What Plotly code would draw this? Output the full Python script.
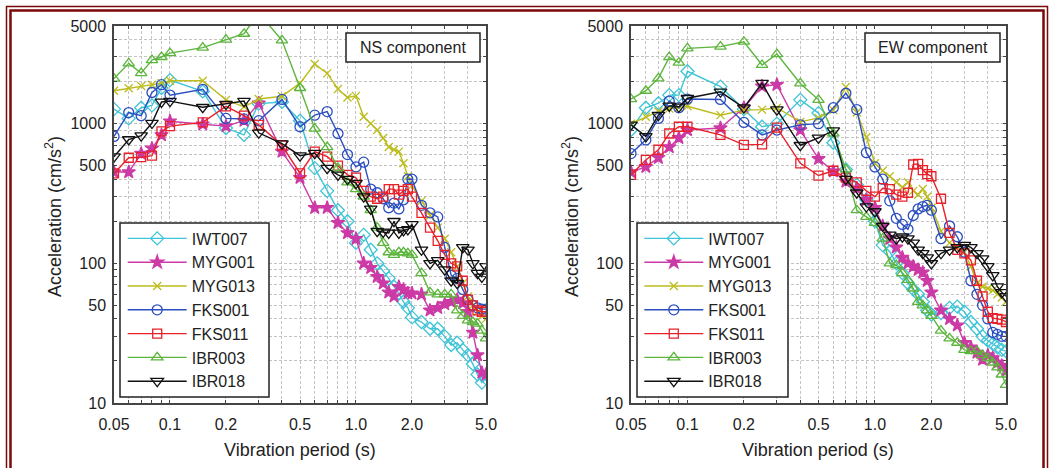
import plotly.graph_objects as go

# ---------------- data ----------------
periods = [0.05, 0.06, 0.07, 0.08, 0.09, 0.10, 0.15, 0.20, 0.25, 0.30,
           0.40, 0.50, 0.60, 0.70, 0.80, 0.90, 1.0, 1.1, 1.2, 1.3, 1.4,
           1.5, 1.6, 1.7, 1.8, 1.9, 2.0, 2.25, 2.5, 2.75, 3.0, 3.25, 3.5,
           3.75, 4.0, 4.25, 4.5, 4.75, 5.0]

stations = ["IWT007", "MYG001", "MYG013", "FKS001", "FKS011", "IBR003", "IBR018"]

# NS component
ns_iwt007 = [1270, 1090, 1300, 1350, 1800, 2050, 1700, 930, 830, 1390,
             1430, 1050, 480, 330, 240, 200, 140, 160, 125, 100, 88, 78, 68, 61, 53, 48, 41,
             38, 34, 34, 30, 26, 27, 24, 22, 19, 16, 14, 15]
ns_myg001 = [450, 450, 610, 665, 830, 1040, 990, 960, 1050, 1400,
             630, 410, 250, 250, 195, 165, 150, 100, 93, 80, 72, 62, 58, 68, 65, 61, 61,
             60, 46, 48, 51, 53, 55, 52, 45, 32, 22, 16.5, 16]
ns_myg013 = [1720, 1790, 1860, 1900, 1950, 2030, 2030, 1480, 1320, 1500,
             1570, 1950, 2670, 2290, 1770, 1540, 1580, 1120, 1000, 900, 790, 680, 650, 630, 520, 420, 360,
             280, 220, 180, 150, 120, 95, 72, 58, 50, 45, 42, 40]
ns_fks001 = [810, 1200, 1140, 1670, 1900, 1600, 1760, 1090, 1080, 1050,
             1490, 950, 1150, 1220, 850, 600, 490, 530, 340, 320, 290, 250, 270, 245, 285, 400, 400,
             260, 230, 215, 130, 82, 78, 65, 55, 50, 48, 47, 47]
ns_fks011 = [440, 570, 575, 590, 880, 960, 1020, 1330, 1140, 980,
             700, 440, 630, 580, 500, 430, 410, 330, 300, 290, 300, 340, 340, 310, 330, 340, 300,
             230, 180, 145, 115, 100, 95, 75, 55, 50, 46, 45, 45]
ns_ibr003 = [2100, 2700, 2300, 2850, 3000, 3200, 3500, 4000, 4400, 6200,
             3950, 1800, 920, 680, 480, 380, 340, 300, 240, 180, 140, 120, 115, 120, 120, 118, 115,
             85, 62, 60, 60, 60, 46, 42, 39, 38, 37, 33, 29]
ns_ibr018 = [580, 770, 820, 1010, 1430, 1450, 1310, 1380, 1450, 860,
             720, 590, 615, 480, 430, 400, 375, 300, 245, 170, 168, 165, 200, 165, 172, 175, 190,
             125, 100, 105, 90, 75, 72, 130, 125, 100, 85, 80, 95]

# EW component
ew_iwt007 = [900, 1300, 1400, 1600, 1600, 2370, 1840, 1270, 950, 1000,
             1480, 1190, 730, 470, 365, 285, 200, 135, 121, 100, 85, 72, 65, 60, 53, 46, 43,
             44, 48, 49, 45, 38, 34, 30, 28, 26.5, 25, 24, 23.5]
ew_myg001 = [450, 490, 570, 680, 790, 900, 930, 1300, 1850, 1900,
             900, 560, 455, 385, 345, 285, 250, 185, 150, 130, 110, 100, 95, 90, 86, 75, 62,
             46, 40, 36, 27, 25, 23, 20.5, 22, 21, 19.5, 18.5, 17]
ew_myg013 = [1000, 1120, 1220, 1280, 1300, 1330, 1150, 1250, 1260, 1300,
             1030, 1100, 1250, 1830, 1200, 800, 520, 460, 420, 380, 350, 380, 330, 310, 340, 300, 250,
             170, 140, 130, 120, 95, 72, 68, 66, 64, 60, 57, 53]
ew_fks001 = [610, 765, 1090, 1450, 1300, 1500, 1490, 1020, 830, 900,
             980, 1000, 1300, 1650, 1260, 620, 490, 400, 280, 210, 190, 175, 220, 245, 255, 260, 240,
             150, 185, 155, 120, 75, 60, 50, 40, 32, 31, 30, 30]
ew_fks011 = [430, 550, 650, 850, 950, 950, 830, 705, 710, 935,
             520, 425, 460, 410, 380, 330, 300, 345, 340, 310, 300, 320, 510, 515, 465, 435, 420,
             290, 165, 125, 118, 105, 75, 58, 45, 40.5, 40, 39.5, 38]
ew_ibr003 = [1500, 1720, 2110, 2990, 2730, 3460, 3560, 3860, 2630, 3150,
             1940, 1480, 850, 470, 240, 215, 195, 150, 100, 97, 85, 76, 66, 53, 50, 46, 42,
             33, 29, 27, 24, 23.5, 23.5, 22, 21, 19.5, 18, 16, 13.5]
ew_ibr018 = [980, 810, 1150, 1340, 1320, 1520, 1690, 1300, 1950, 1260,
             700, 790, 890, 400, 320, 255, 235, 185, 160, 150, 155, 150, 140, 125, 118, 110, 100,
             118, 125, 130, 135, 130, 118, 108, 95, 82, 68, 62, 58]

ns_values = [ns_iwt007, ns_myg001, ns_myg013, ns_fks001, ns_fks011, ns_ibr003, ns_ibr018]
ew_values = [ew_iwt007, ew_myg001, ew_myg013, ew_fks001, ew_fks011, ew_ibr003, ew_ibr018]

x_tickvals = [0.05, 0.06, 0.07, 0.08, 0.09, 0.1, 0.2, 0.3, 0.4, 0.5, 0.6, 0.7, 0.8, 0.9,
              1, 2, 3, 4, 5]
x_ticktext = ["0.05", " ", " ", " ", " ", "0.1", "0.2", " ", " ", "0.5", " ", " ", " ", " ",
              "1.0", "2.0", " ", " ", "5.0"]
y_tickvals = [10, 20, 30, 40, 50, 60, 70, 80, 90, 100, 200, 300, 400, 500, 600, 700, 800,
              900, 1000, 2000, 3000, 4000, 5000]
y_ticktext = ["10", " ", " ", " ", "50", " ", " ", " ", " ", "100", " ", " ", " ", "500", " ",
              " ", " ", " ", "1000", " ", " ", " ", "5000"]

# ---------------- styles ----------------
colors = ["#3ec4d6", "#cc3aa6", "#bcbc1c", "#2c4fc0", "#e8202a", "#5cb53c", "#111111"]
symbols = ["diamond-open", "star", "x-thin-open", "circle-open", "square-open",
           "triangle-up-open", "triangle-down-open"]
sizes = [10, 10, 8, 10, 9, 10, 11]

W, H = 1054, 468
FONT = "Liberation Sans, Arial, Helvetica, sans-serif"
TXT = "#222222"


def px_x(p):
    return p / W


def px_y(p):
    return 1 - p / H


fig = go.Figure()

for i, name in enumerate(stations):
    for comp, vals, xa, ya, lg in (("NS", ns_values[i], "x", "y", "legend"),
                                    ("EW", ew_values[i], "x2", "y2", "legend2")):
        fig.add_trace(go.Scatter(
            x=periods, y=vals, name=name, xaxis=xa, yaxis=ya, legend=lg,
            mode="lines+markers",
            line=dict(color=colors[i], width=1.4),
            marker=dict(symbol=symbols[i], size=sizes[i], color=colors[i],
                        line=dict(color=colors[i], width=1.3)),
        ))

axis_common = dict(
    type="log", showline=True, mirror="ticks", linecolor="#444444", linewidth=1.5,
    showgrid=True, gridcolor="#c4c4c4", gridwidth=1, griddash="3px,2px",
    ticks="inside", ticklen=3, tickcolor="#444444", automargin=False, tickangle=0,
    tickfont=dict(family=FONT, size=16, color=TXT), zeroline=False,
)

xaxis = dict(axis_common, range=[-1.30103, 0.69897], tickmode="array",
             tickvals=x_tickvals, ticktext=x_ticktext, ticklabelstandoff=6)
yaxis = dict(axis_common, range=[1, 3.69897], tickmode="array",
             tickvals=y_tickvals, ticktext=y_ticktext, ticklabelstandoff=3)

legend_common = dict(xanchor="left", yanchor="top", borderwidth=0,
                     bgcolor="rgba(0,0,0,0)",
                     font=dict(family=FONT, size=16, color=TXT), itemwidth=59,
                     tracegroupgap=0)

fig.update_layout(
    width=W, height=H, autosize=False,
    margin=dict(l=0, r=0, t=0, b=0, pad=0, autoexpand=False),
    paper_bgcolor="white", plot_bgcolor="white",
    font=dict(family=FONT, color=TXT),
    xaxis=dict(xaxis, domain=[px_x(114), px_x(486)], anchor="y"),
    yaxis=dict(yaxis, domain=[px_y(403), px_y(26)], anchor="x"),
    xaxis2=dict(xaxis, domain=[px_x(631), px_x(1006)], anchor="y2"),
    yaxis2=dict(yaxis, domain=[px_y(403), px_y(26)], anchor="x2"),
    legend=dict(legend_common, x=px_x(122.7), y=px_y(221.5)),
    legend2=dict(legend_common, x=px_x(639.3), y=px_y(221.5)),
    showlegend=True,
)

shapes = []
# legend boxes
for x0, x1 in ((120, 269), (637, 788)):
    shapes.append(dict(type="rect", xref="paper", yref="paper",
                       x0=px_x(x0), x1=px_x(x1), y0=px_y(397), y1=px_y(223),
                       line=dict(color="#222222", width=1.5), fillcolor="white", layer="above"))
# component boxes
for x0, x1 in ((346, 480), (865, 1000)):
    shapes.append(dict(type="rect", xref="paper", yref="paper",
                       x0=px_x(x0), x1=px_x(x1), y0=px_y(62), y1=px_y(33),
                       line=dict(color="#222222", width=1.5), fillcolor="white", layer="above"))
# dark red page border (double line)
shapes.append(dict(type="rect", xref="paper", yref="paper",
                   x0=px_x(6.5), x1=px_x(1047.5), y0=px_y(480), y1=px_y(6.5),
                   line=dict(color="#7a0a0a", width=1.5)))
shapes.append(dict(type="rect", xref="paper", yref="paper",
                   x0=px_x(10.5), x1=px_x(1043.5), y0=px_y(480), y1=px_y(10.5),
                   line=dict(color="#7a0a0a", width=2.5)))

annotations = [
    dict(text="NS component", x=px_x(413), y=px_y(47.5), xref="paper", yref="paper",
         xanchor="center", yanchor="middle",
         showarrow=False, font=dict(family=FONT, size=16, color=TXT)),
    dict(text="EW component", x=px_x(932.5), y=px_y(47.5), xref="paper", yref="paper",
         xanchor="center", yanchor="middle",
         showarrow=False, font=dict(family=FONT, size=16, color=TXT)),
    dict(text="Vibration period (s)", x=px_x(300), y=px_y(450), xref="paper", yref="paper",
         xanchor="center", yanchor="middle",
         showarrow=False, font=dict(family=FONT, size=18, color=TXT)),
    dict(text="Vibration period (s)", x=px_x(818), y=px_y(450), xref="paper", yref="paper",
         xanchor="center", yanchor="middle",
         showarrow=False, font=dict(family=FONT, size=18, color=TXT)),
    dict(text="Acceleration (cm/s<sup>2</sup>)", x=px_x(53), y=px_y(217), xref="paper",
         yref="paper", showarrow=False, textangle=-90, xanchor="center", yanchor="middle",
         font=dict(family=FONT, size=18, color=TXT)),
    dict(text="Acceleration (cm/s<sup>2</sup>)", x=px_x(570), y=px_y(217), xref="paper",
         yref="paper", showarrow=False, textangle=-90, xanchor="center", yanchor="middle",
         font=dict(family=FONT, size=18, color=TXT)),
]

fig.update_layout(shapes=shapes, annotations=annotations)

fig.write_html("out.html",
               config={"displayModeBar": False},
               post_script="document.body.style.margin='0';document.body.style.padding='0';")
